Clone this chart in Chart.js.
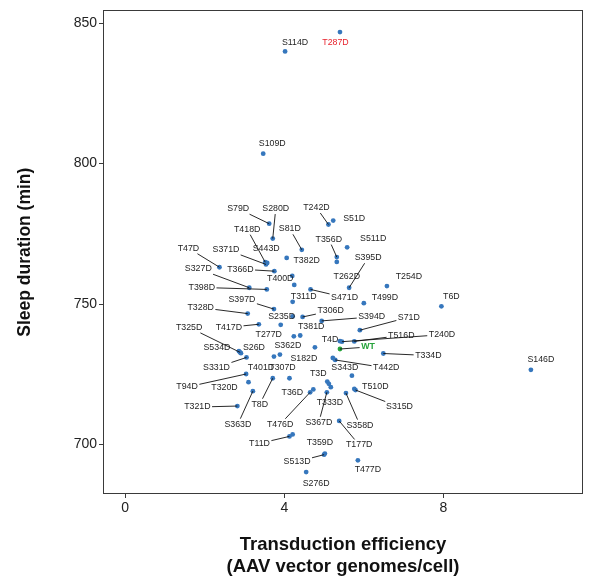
<!DOCTYPE html>
<html>
<head>
<meta charset="utf-8">
<script src="https://cdn.jsdelivr.net/npm/chart.js@4/dist/chart.umd.min.js"></script>
<style>
  html, body { margin: 0; padding: 0; background: #ffffff; }
  #wrap { width: 590px; height: 584px; }
</style>
</head>
<body>
<div id="wrap"><canvas id="c" width="590" height="584"></canvas></div>
<script>
// Phospho-mimetic mutants: transduction efficiency vs. sleep duration
const mutants = [
  'S114D','T287D','S109D','S79D','S280D','T242D','S51D','T418D','S81D','S511D',
  'T356D','T47D','S371D','S443D','T382D','S395D','S327D','T366D','T400D','T262D',
  'T254D','T398D','T311D','S471D','T499D','T6D','S397D','S235D','T306D','T328D',
  'S394D','S71D','T325D','T417D','T381D','T277D','T4D','T516D','T240D','S534D',
  'S26D','S362D','WT','S182D','T334D','S331D','T401D','T307D','S343D','T442D',
  'T94D','T320D','T3D','T510D','T36D','T333D','S315D','T321D','T8D','S363D',
  'T476D','S367D','S358D','T11D','T359D','T177D','S513D','T477D','S276D','S146D',
  '','','','',''
];
// AAV vector genomes per cell
const efficiency = [
  4.02, 5.40, 3.47, 3.62, 3.71, 5.11, 5.23, 3.52, 4.44, 5.58,
  5.32, 2.37, 3.54, 3.57, 4.06, 5.63, 3.12, 3.75, 4.20, 5.32,
  6.58, 3.56, 4.21, 4.66, 6.00, 7.95, 3.74, 4.21, 4.46, 3.08,
  4.94, 5.90, 2.89, 3.36, 4.40, 3.91, 5.40, 5.76, 5.45, 2.86,
  2.91, 3.89, 5.40, 4.77, 6.49, 3.05, 3.74, 4.13, 5.22, 5.28,
  3.04, 3.10, 5.08, 5.76, 4.73, 5.17, 5.79, 2.82, 3.71, 3.21,
  4.65, 5.07, 5.55, 4.13, 5.02, 5.38, 5.00, 5.85, 4.55, 10.20,
  4.25, 4.24, 5.12, 5.70, 4.21
];
// Sleep duration (min)
const sleepMinutes = [
  839.9, 846.8, 803.5, 778.6, 773.3, 778.3, 779.7, 764.9, 769.3, 770.2,
  766.7, 763.1, 764.1, 764.6, 766.4, 755.8, 755.8, 761.7, 760.0, 765.0,
  756.4, 755.2, 750.8, 755.2, 750.3, 749.2, 748.2, 745.6, 745.4, 746.6,
  744.0, 740.7, 732.8, 742.8, 738.8, 742.6, 736.8, 736.7, 736.6, 733.2,
  732.5, 732.0, 734.0, 734.6, 732.4, 731.0, 731.3, 723.6, 730.8, 730.1,
  725.1, 722.2, 722.4, 719.8, 719.6, 720.4, 719.4, 713.7, 723.6, 719.0,
  718.6, 718.6, 718.3, 702.9, 696.8, 708.4, 696.4, 694.4, 690.2, 726.6,
  756.8, 738.5, 721.6, 724.5, 703.6
];
const xTicks = [0, 4, 8];
const yTicks = [700, 750, 800, 850];
const highlightRed = ['T287D'];
const controlName = 'WT';

// Label placement: offset of the label centre from its point (px) and whether a leader line is drawn
const labelPlacement = {
  S114D:[10,-9,0], T287D:[-4.5,10.3,0], S109D:[9,-10,0], S79D:[-31,-15,1], S280D:[3,-30,1],
  T242D:[-12,-17,1], S51D:[21,-2,0], T418D:[-18,-33,1], S81D:[-12,-21,1], S511D:[26,-9,0],
  T356D:[-8,-18,1], T47D:[-31,-19,1], S371D:[-40,-15,1], S443D:[-1,-14,0], T382D:[20,3,0],
  S395D:[19,-30,1], S327D:[-51,-19,1], T366D:[-34,-2,1], T400D:[-12,3,0], T262D:[10,15,0],
  T254D:[22,-9,0], T398D:[-65,-2,1], T311D:[11,-5,0], S471D:[34,8,1], T499D:[21,-6,0],
  T6D:[10,-10,0], S397D:[-32,-10,1], S235D:[-11,0,0], T306D:[28,-6,1], T328D:[-47,-6,1],
  S394D:[50,-4,1], S71D:[49,-13,1], T325D:[-51,-25,1], T417D:[-30,3,1], T381D:[11,-9,0],
  T277D:[-12,10,0], T4D:[-10,-2,0], T516D:[47,-6,1], T240D:[100,-7,1], S534D:[-22,-4,0],
  S26D:[13,-6,0], S362D:[8,-9,0], WT:[28,-2,1], S182D:[-11,11,0], T334D:[45,2,1],
  S331D:[-30,10,1], T401D:[-13,11,0], T307D:[-7,-11,0], S343D:[12,10,0], T442D:[51,8,1],
  T94D:[-59,13,1], T320D:[-24,5,0], T3D:[-9,-8,0], T510D:[21,-2,0], T36D:[-21,3,0],
  T333D:[-1,15,0], S315D:[44,17,1], T321D:[-40,1,1], T8D:[-13,26,1], S363D:[-15,33,1],
  T476D:[-30,32,1], S367D:[-8,30,1], S358D:[14,32,1], T11D:[-30,7,1], T359D:[-5,-11,0],
  T177D:[20,24,1], S513D:[-27,7,1], T477D:[10,9,0], S276D:[10,11,0], S146D:[10,-10,0]
};

const FONT = '"Liberation Sans", Arial, Helvetica, sans-serif';
const BLUE = '#3677bd';
const GREEN = '#26a33b';
const RED = '#e8232d';

const points = efficiency.map((x, i) => ({ x: x, y: sleepMinutes[i] }));
const pointColors = mutants.map(n => n === controlName ? GREEN : BLUE);

// Panel frame drawn around the plotting area
const panelFrame = {
  id: 'panelFrame',
  afterDraw(chart) {
    const { ctx, chartArea: a } = chart;
    ctx.save();
    ctx.strokeStyle = '#3a3a3a';
    ctx.lineWidth = 1;
    ctx.strokeRect(Math.round(a.left) + 0.5, Math.round(a.top) + 0.5,
                   Math.round(a.right - a.left) - 1, Math.round(a.bottom - a.top) - 1);
    ctx.restore();
  }
};

// Repelled-style text labels with leader segments
const pointLabels = {
  id: 'pointLabels',
  afterDatasetsDraw(chart) {
    const { ctx } = chart;
    const meta = chart.getDatasetMeta(0);
    ctx.save();
    const items = [];
    mutants.forEach((name, i) => {
      if (!name || !labelPlacement[name]) return;
      const el = meta.data[i];
      const [dx, dy, seg] = labelPlacement[name];
      const isCtrl = name === controlName;
      ctx.font = (isCtrl ? 'bold ' : '') + '8.8px ' + FONT;
      const w = ctx.measureText(name).width;
      items.push({ name, px: el.x, py: el.y, cx: el.x + dx, cy: el.y + dy, seg, w, isCtrl });
    });
    // leader segments
    ctx.strokeStyle = '#111';
    ctx.lineWidth = 0.9;
    items.forEach(it => {
      if (!it.seg) return;
      const hw = it.w / 2 + 1.5, hh = 5.5;
      const vx = it.px - it.cx, vy = it.py - it.cy;
      const t = Math.min(Math.abs(vx) > 0 ? hw / Math.abs(vx) : Infinity,
                         Math.abs(vy) > 0 ? hh / Math.abs(vy) : Infinity);
      const ex = it.cx + vx * t, ey = it.cy + vy * t;
      ctx.beginPath();
      ctx.moveTo(it.px, it.py);
      ctx.lineTo(ex, ey);
      ctx.stroke();
    });
    // texts
    ctx.textAlign = 'center';
    ctx.textBaseline = 'middle';
    items.forEach(it => {
      ctx.font = (it.isCtrl ? 'bold ' : '') + '8.8px ' + FONT;
      ctx.fillStyle = it.isCtrl ? GREEN : (highlightRed.includes(it.name) ? RED : '#1e1e1e');
      ctx.fillText(it.name, it.cx, it.cy);
    });
    ctx.restore();
  }
};

new Chart(document.getElementById('c'), {
  type: 'scatter',
  data: {
    datasets: [{
      data: points,
      pointRadius: 2.4,
      pointHoverRadius: 2.4,
      pointBackgroundColor: pointColors,
      pointBorderColor: pointColors,
      pointBorderWidth: 0
    }]
  },
  options: {
    responsive: false,
    animation: false,
    devicePixelRatio: 1,
    layout: { padding: { top: 8, right: 7, left: 0, bottom: 0 } },
    plugins: { legend: { display: false }, tooltip: { enabled: false } },
    scales: {
      x: {
        type: 'linear',
        min: -0.558,
        max: 11.51,
        afterBuildTicks: s => { s.ticks = xTicks.map(v => ({ value: v })); },
        afterFit: s => { s.height = 90; },
        border: { display: false },
        grid: { drawOnChartArea: false, drawTicks: true, tickLength: 4, color: '#3a3a3a', lineWidth: 1 },
        ticks: { color: '#222', padding: 2, maxRotation: 0, font: { family: FONT, size: 14 } },
        title: {
          display: true,
          text: ['Transduction efficiency', '(AAV vector genomes/cell)'],
          color: '#111',
          font: { family: FONT, size: 18.5, weight: 'bold', lineHeight: 1.19 },
          padding: { top: 0, bottom: 6 }
        }
      },
      y: {
        type: 'linear',
        min: 682.4,
        max: 854.5,
        afterBuildTicks: s => { s.ticks = yTicks.map(v => ({ value: v })); },
        afterFit: s => { s.width = 103; },
        border: { display: false },
        grid: { drawOnChartArea: false, drawTicks: true, tickLength: 4, color: '#3a3a3a', lineWidth: 1 },
        ticks: { color: '#222', padding: 2, font: { family: FONT, size: 14 } },
        title: {
          display: true,
          text: 'Sleep duration (min)',
          color: '#111',
          font: { family: FONT, size: 17.5, weight: 'bold', lineHeight: 1.2 },
          padding: { top: 14.5, bottom: 0 }
        }
      }
    }
  },
  plugins: [panelFrame, pointLabels]
});
</script>
</body>
</html>
